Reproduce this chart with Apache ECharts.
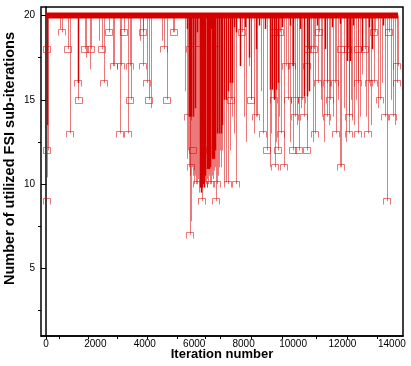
<!DOCTYPE html>
<html>
<head>
<meta charset="utf-8">
<script src="https://cdn.jsdelivr.net/npm/echarts@6/dist/echarts.min.js"></script>
<style>
html, body { margin: 0; padding: 0; background: #fff; }
#chart { width: 411px; height: 366px; }
</style>
</head>
<body>
<div id="chart"></div>
<script>
// sub-iteration cap, reached at almost every iteration
var maxSubIter = 20;
var bandIters = [0, 14250];

// drops below the cap: [iteration, lowest count]
var lightDrops = [
    [40, 10.4], [80, 12], [560, 19.2], [630, 19], [910, 18], [970, 13], [1300, 15], [1580, 18], [1620, 17.5],
    [1780, 16.8], [1840, 18], [2150, 18.5], [2250, 18], [2330, 16], [2570, 19], [2700, 17], [2770, 17],
    [3000, 13], [3020, 17], [3160, 19], [3340, 13], [3400, 17], [3440, 15], [3800, 18.5], [3910, 17],
    [3930, 19], [4110, 16], [4170, 15], [4250, 14.5], [4700, 18.5], [4760, 18], [4880, 15], [5140, 19], [5200, 19],
    [5640, 15.5], [5700, 11.5],
    [5750, 12], [5790, 11], [5830, 10.5], [5850, 7], [5870, 7.8], [5900, 11], [5950, 10.5], [5990, 10],
    [6030, 10.5], [6070, 10], [6120, 10], [6160, 10.3], [6200, 9.5], [6240, 10], [6280, 10], [6320, 9],
    [6360, 10], [6400, 10], [6440, 10.2], [6480, 10], [6520, 10.3], [6560, 10], [6600, 10.5], [6640, 10],
    [6680, 10], [6720, 10.5], [6760, 10.3], [6800, 10.8], [6840, 11], [6885, 9], [6925, 10], [6970, 10.5],
    [7010, 11], [7050, 12], [7090, 11], [7130, 12], [7200, 10.1], [7290, 10.1], [7370, 10], [7450, 12],
    [7470, 15], [7530, 14], [7600, 13], [7700, 10], [7860, 17],
    [7940, 19], [8020, 14], [8100, 12.5], [8220, 17], [8280, 15], [8300, 15], [8420, 13], [8500, 14], [8550, 14],
    [8700, 15.5], [8790, 13], [8950, 12], [9070, 11], [9120, 13], [9210, 15], [9270, 11], [9320, 12.5],
    [9380, 12], [9430, 14], [9480, 19], [9520, 13], [9640, 11], [9720, 17], [9800, 15], [9870, 12.5],
    [9960, 17], [9980, 12], [10080, 14], [10170, 13.5], [10250, 12], [10330, 14.5], [10370, 15], [10450, 14],
    [10550, 12], [10570, 17], [10610, 18], [10730, 18], [10800, 12.5], [10850, 18], [10890, 13], [11000, 16],
    [11060, 19], [11120, 15], [11180, 14], [11260, 12.5], [11360, 14], [11380, 16], [11440, 13.5], [11500, 15],
    [11620, 14], [11700, 16], [11750, 13], [11830, 15], [11910, 11], [11950, 11], [12070, 14.5], [12150, 12.5],
    [12230, 18], [12250, 14], [12270, 13], [12340, 15], [12390, 14], [12480, 13.5], [12560, 15], [12620, 13],
    [12640, 16], [12720, 14], [12800, 16.5], [12920, 18], [12970, 14], [13020, 13], [13060, 16], [13150, 13.5],
    [13280, 16], [13320, 19], [13420, 14.5], [13530, 15], [13620, 16], [13730, 14], [13810, 9], [13890, 19],
    [13980, 15], [14050, 14], [14120, 13.5], [14200, 16], [14260, 17]
];
var darkDrops = [
    [40, 13.5], [1300, 16], [5790, 14], [5830, 14], [5870, 14], [5950, 14], [6030, 14.5], [6240, 9.8],
    [6280, 9.5], [6320, 9.8], [6360, 10], [6400, 9.8], [6440, 10.5], [6520, 10.9], [6560, 10.9], [6600, 10.9],
    [6640, 11], [6720, 11.5], [6760, 11.5], [6800, 11.5], [6840, 12], [6925, 13], [7000, 13], [7090, 13],
    [7130, 13.5], [7210, 15], [7290, 15], [7370, 15.5], [7450, 16], [7530, 16], [7860, 17], [8220, 17.5],
    [8500, 18], [9070, 15.6], [9150, 15.6], [9230, 15], [9320, 15.6], [9400, 16], [10000, 17], [10450, 15.2],
    [10550, 15.2], [10650, 15.5], [11300, 18], [11910, 19.5], [12190, 17.3], [12310, 17.3], [12800, 17.9],
    [13200, 18],
    [5720, 19.2], [6100, 19], [6700, 19.2], [7600, 19.3], [7700, 19], [8050, 19.3], [8620, 19.4], [8850, 19.2],
    [9560, 19.3], [9880, 19.4], [10280, 19.2], [10960, 19.4], [11560, 19.3], [12420, 19.4], [13080, 19.3],
    [13650, 19.4]
];

// plateaus shown as boxes and brackets: [iteration, count]
var boxMarks = [
    [60, 18], [60, 12], [910, 18], [1580, 18], [1840, 18], [2250, 18], [2570, 19], [3160, 19], [3930, 19],
    [5200, 19], [1320, 15], [3420, 15], [4170, 15], [4880, 15], [7470, 15], [8280, 15], [7940, 19],
    [5950, 12], [6640, 12], [8950, 12], [9380, 12], [9980, 12], [10250, 12], [10550, 12], [9210, 19],
    [9480, 19], [11060, 19], [13280, 19], [13890, 19], [10610, 18], [10850, 18], [11950, 18], [12230, 18],
    [12640, 18], [12920, 18]
];
var bracketMarks = [
    [630, 19], [4760, 18], [5850, 18], [6200, 18], [6900, 18], [2770, 17], [3020, 17], [3400, 17],
    [3910, 17], [9720, 17], [9960, 17], [10570, 17], [14200, 17], [1300, 16], [2330, 16], [4110, 16],
    [11000, 16], [11380, 16], [11700, 16], [12640, 16], [13060, 16], [13280, 16], [14200, 16], [9210, 15],
    [9800, 15], [10080, 15], [10370, 15], [11500, 15], [13530, 15], [5750, 14], [8500, 14], [10080, 14],
    [10450, 14], [11360, 14], [12250, 14], [13730, 14], [14050, 14], [970, 13], [3000, 13], [3340, 13],
    [8790, 13], [9520, 13], [11750, 13], [12270, 13], [12620, 13], [13020, 13], [10890, 13], [9270, 11],
    [9640, 11], [11950, 11], [5870, 11], [6120, 10], [6400, 10], [6680, 10], [6925, 10], [7370, 10],
    [7700, 10], [40, 9], [6320, 9], [6885, 9], [13810, 9], [5850, 7]
];

var xLabelValues = [0, 2000, 4000, 6000, 8000, 10000, 12000, 14000];
var xTickValues = [0, 550, 1700, 2900, 4100, 5300, 6450, 7050, 8300, 9550, 10950, 12200, 13400];
var yLabelValues = [5, 10, 15, 20];
var yMinorValues = [2.5, 7.5, 12.5, 17.5];

var lightRed = 'rgba(214,0,0,0.52)';
var darkRed = '#d40000';

function dropItem(color, width) {
    return function (params, api) {
        var top = api.coord([api.value(0), maxSubIter]);
        var bottom = api.coord([api.value(0), api.value(1)]);
        var x = Math.round(top[0]) + 0.5;
        return {
            type: 'line',
            shape: { x1: x, y1: top[1], x2: x, y2: bottom[1] },
            style: { stroke: color, lineWidth: width }
        };
    };
}

function boxItem(params, api) {
    var c = api.coord([api.value(0), api.value(1)]);
    var x = Math.round(c[0]) + 0.5, y = Math.round(c[1]) + 0.5;
    return {
        type: 'rect',
        shape: { x: x - 4, y: y - 3, width: 7, height: 6 },
        style: { fill: 'none', stroke: lightRed, lineWidth: 1 }
    };
}

function bracketItem(params, api) {
    var c = api.coord([api.value(0), api.value(1)]);
    var x = Math.round(c[0]) + 0.5, y = Math.round(c[1]) + 0.5;
    return {
        type: 'polyline',
        shape: { points: [[x - 4, y + 3], [x - 4, y - 3], [x + 3, y - 3], [x + 3, y + 3]] },
        style: { fill: 'none', stroke: lightRed, lineWidth: 1 }
    };
}

function plain(v) {
    return String(v);
}

var chart = echarts.init(document.getElementById('chart'));

chart.setOption({
    animation: false,
    grid: {
        left: 41, right: 8, top: 7, bottom: 30,
        outerBoundsMode: 'none',
        show: true, borderColor: '#000', borderWidth: 1.5
    },
    xAxis: {
        type: 'value',
        min: -200,
        max: 14450,
        splitLine: { show: false },
        axisLine: { lineStyle: { color: '#000', width: 1.5 } },
        axisTick: { customValues: xTickValues, length: 3, lineStyle: { color: '#000' } },
        axisLabel: { customValues: xLabelValues, formatter: plain, margin: 3, color: '#000', fontSize: 10, fontFamily: 'Liberation Sans' },
        name: 'Iteration number',
        nameLocation: 'middle',
        nameGap: 12,
        nameMoveOverlap: false,
        nameTextStyle: { color: '#000', fontSize: 13, fontWeight: 'bold', fontFamily: 'Liberation Sans' }
    },
    yAxis: [{
        type: 'value',
        min: 1,
        max: 20.5,
        splitLine: { show: false },
        axisLine: { lineStyle: { color: '#000', width: 1.5 } },
        axisTick: { customValues: yLabelValues, length: 5, lineStyle: { color: '#000' } },
        axisLabel: { customValues: yLabelValues, formatter: plain, margin: 6, color: '#000', fontSize: 10, fontFamily: 'Liberation Sans' },
        name: 'Number of utilized FSI sub-iterations',
        nameLocation: 'middle',
        nameGap: 24,
        nameMoveOverlap: false,
        nameTextStyle: { color: '#000', fontSize: 14.5, fontWeight: 'bold', fontFamily: 'Liberation Sans', padding: [0, 0, 0, 26] }
    }, {
        type: 'value',
        min: 1,
        max: 20.5,
        position: 'left',
        splitLine: { show: false },
        axisLine: { show: false },
        axisTick: { customValues: yMinorValues, length: 3, lineStyle: { color: '#000' } },
        axisLabel: { show: false }
    }],
    series: [{
        type: 'custom',
        renderItem: dropItem(lightRed, 1),
        data: lightDrops,
        z: 2
    }, {
        type: 'custom',
        renderItem: dropItem(darkRed, 1.5),
        data: darkDrops,
        z: 3
    }, {
        type: 'custom',
        renderItem: boxItem,
        data: boxMarks,
        z: 4
    }, {
        type: 'custom',
        renderItem: bracketItem,
        data: bracketMarks,
        z: 4
    }, {
        type: 'line',
        data: bandIters.map(function (it) { return [it, maxSubIter]; }),
        symbol: 'none',
        lineStyle: { color: darkRed, width: 6 },
        z: 5
    }]
});
</script>
</body>
</html>
